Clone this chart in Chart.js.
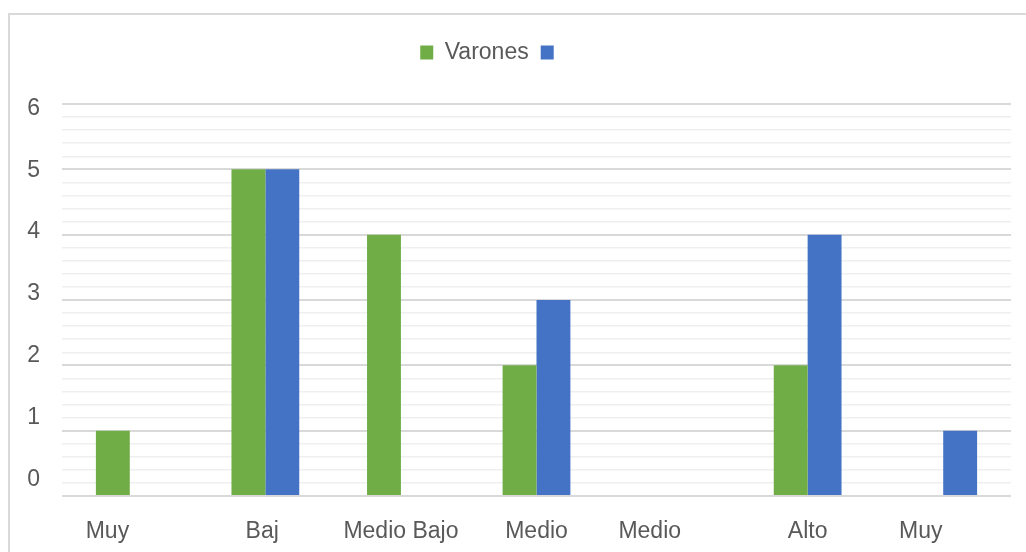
<!DOCTYPE html>
<html>
<head>
<meta charset="utf-8">
<script src="https://cdn.jsdelivr.net/npm/chart.js@4/dist/chart.umd.min.js"></script>
<style>
  html, body { margin: 0; padding: 0; background: #ffffff; overflow: hidden; }
  #wrap { position: relative; width: 1026px; height: 552px; overflow: hidden; }
  #frame { position: absolute; left: 8px; top: 13px; width: 1100px; height: 600px; border: 2px solid #d9d9d9; box-sizing: border-box; }
  #c { position: absolute; left: 0; top: 0; }
</style>
</head>
<body>
<div id="wrap">
  <div id="frame"></div>
  <canvas id="c" width="1026" height="552"></canvas>
</div>
<script>
// ---- data ----
const categories = ['Muy', 'Baj', 'Medio Bajo', 'Medio', 'Medio', 'Alto', 'Muy'];
const varones = [1, 5, 4, 2, 0, 2, 0];
const serie2 = [0, 5, 0, 3, 0, 4, 1];
const seriesNames = ['Varones', ''];
const yTickLabels = [0, 1, 2, 3, 4, 5, 6];

const TEXT = '#595959';
const FONT = "'Liberation Sans', Arial, sans-serif";
const FSIZE = 23;
// trailing spaces reproduce the clipped, off-centre labels of the original
const labelPad = { 0: 7, 1: 1, 4: 7, 6: 7 };

const legendSpacer = {
  id: 'legendSpacer',
  beforeInit(chart) {
    const orig = chart.legend.fit;
    chart.legend.fit = function () {
      orig.call(this);
      this.height += 30;
    };
  }
};

new Chart(document.getElementById('c'), {
  type: 'bar',
  data: {
    labels: categories,
    datasets: [
      { label: seriesNames[0], data: varones, backgroundColor: '#70ad47', borderWidth: 0 },
      { label: seriesNames[1], data: serie2, backgroundColor: '#4472c4', borderWidth: 0 }
    ]
  },
  options: {
    responsive: false,
    animation: false,
    devicePixelRatio: 1,
    layout: { padding: { left: 0, right: 15, top: 29, bottom: 0 } },
    datasets: { bar: { categoryPercentage: 0.5, barPercentage: 1.0 } },
    plugins: {
      tooltip: { enabled: false },
      legend: {
        position: 'top',
        labels: {
          color: TEXT,
          font: { family: FONT, size: FSIZE },
          boxWidth: 13,
          boxHeight: 14,
          padding: 12,
          generateLabels(chart) {
            const items = Chart.defaults.plugins.legend.labels.generateLabels(chart);
            items.forEach((it, i) => { if (i === 1) it.text = '    '; it.lineWidth = 0; });
            return items;
          }
        }
      }
    },
    scales: {
      x: {
        grid: { display: false },
        border: { display: false },
        ticks: {
          color: TEXT,
          font: { family: FONT, size: FSIZE },
          padding: 14,
          autoSkip: false,
          maxRotation: 0,
          callback: function (value, index) {
            return this.getLabelForValue(value) + ' '.repeat(labelPad[index] || 0);
          }
        },
        afterFit(s) { s.height = 56; }
      },
      y: {
        position: 'left',
        min: 0,
        max: 6,
        ticks: { display: false, stepSize: 0.2 },
        border: { display: false },
        grid: {
          drawTicks: false,
          lineWidth(ctx) {
            const v = ctx.tick ? ctx.tick.value : 0;
            return Math.abs(v - Math.round(v)) < 1e-6 ? 2 : 1.5;
          },
          color(ctx) {
            const v = ctx.tick ? ctx.tick.value : 0;
            return Math.abs(v - Math.round(v)) < 1e-6 ? '#d9d9d9' : '#efefef';
          }
        },
        afterFit(s) { s.width = 0; }
      },
      yLabels: {
        position: 'left',
        min: -0.268,
        max: 6.072,
        grid: { display: false, drawTicks: false },
        border: { display: false },
        ticks: {
          color: TEXT,
          font: { family: FONT, size: FSIZE },
          padding: 22,
          callback: (v) => String(v)
        },
        afterBuildTicks(s) { s.ticks = yTickLabels.map(v => ({ value: v })); },
        afterFit(s) { s.width = 62; }
      }
    }
  },
  plugins: [legendSpacer]
});
</script>
</body>
</html>
